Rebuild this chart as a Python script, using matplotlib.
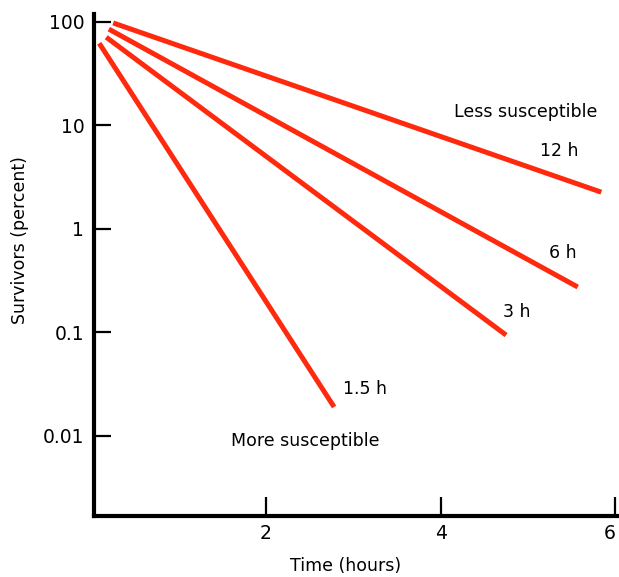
import numpy as np
from matplotlib import pyplot as plt

# survival curves, start and end points
etiquetas=['12 h','6 h','3 h','1.5 h']
horas_inicio=[0.25,0.20,0.17,0.09]
horas_fin=[5.84,5.57,4.75,2.78]
super_inicio=[97.5,85.0,71.0,62.0]
super_fin=[2.26,0.274,0.094,0.019]

ticks_x=[2,4,6]
ticks_y=[100,10,1,0.1,0.01]
ticks_y_txt=['100','10','1','0.1','0.01']

rojo='#ff2a0d'

plt.rcParams['font.family']=['DejaVu Sans']
fig=plt.figure(figsize=(6.19,5.77),dpi=100)
ax=fig.add_axes([94/619,1-516/577,523/619,502/577])

for i in range(len(etiquetas)):
    ax.plot([horas_inicio[i],horas_fin[i]],[super_inicio[i],super_fin[i]],
            color=rojo,lw=3.6,solid_capstyle='butt')

ax.set_yscale('log')
ax.set_xlim(0.03,6.02)
ax.set_ylim(0.00168,119)

ax.spines['top'].set_visible(False)
ax.spines['right'].set_visible(False)
ax.spines['left'].set_linewidth(3)
ax.spines['bottom'].set_linewidth(3)

ax.set_xticks(ticks_x)
ax.set_xticklabels([str(t) for t in ticks_x])
ax.set_yticks(ticks_y)
ax.set_yticklabels(ticks_y_txt)
ax.minorticks_off()
ax.tick_params(axis='both',direction='in',width=1.6,labelsize=13.5,colors='black')
ax.tick_params(axis='y',length=12.5,pad=7)
ax.tick_params(axis='x',length=14,pad=6)
# last x label sits against the right edge
ax.get_xticklabels()[-1].set_ha('right')
ax.get_xticklabels()[-1].set_x(6.0)

# texts next to the lines
ax.text(4.97,13.4,'Less susceptible',fontsize=12.5,ha='center',va='center')
ax.text(5.355,5.65,'12 h',fontsize=12.5,ha='center',va='center')
ax.text(5.40,0.58,'6 h',fontsize=12.5,ha='center',va='center')
ax.text(4.876,0.158,'3 h',fontsize=12.5,ha='center',va='center')
ax.text(3.13,0.0284,'1.5 h',fontsize=12.5,ha='center',va='center')
ax.text(2.446,0.0089,'More susceptible',fontsize=12.5,ha='center',va='center')

fig.text(20/619,1-240/577,'Survivors (percent)',rotation=90,fontsize=12.5,ha='center',va='center')
fig.text(346/619,1-566/577,'Time (hours)',fontsize=12.5,ha='center',va='center')

fig.savefig('out.png',dpi=100)
